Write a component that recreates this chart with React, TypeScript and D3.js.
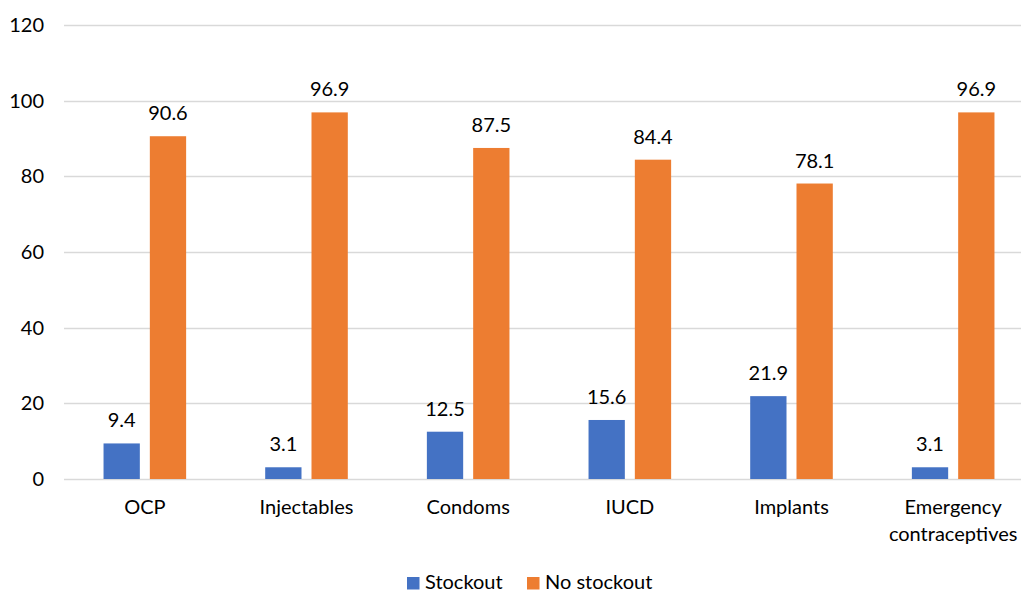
import React from "react";
import * as d3 from "d3";

const categories: string[][] = [
  ["OCP"],
  ["Injectables"],
  ["Condoms"],
  ["IUCD"],
  ["Implants"],
  ["Emergency", "contraceptives"],
];
const stockout = [9.4, 3.1, 12.5, 15.6, 21.9, 3.1];
const noStockout = [90.6, 96.9, 87.5, 84.4, 78.1, 96.9];
const yTicks = [0, 20, 40, 60, 80, 100, 120];
const seriesNames = ["Stockout", "No stockout"];
const colors = ["#4472C4", "#ED7D31"];

const W = 1021;
const H = 592;
const left = 64;
const right = 1034;
const top = 25;
const bottom = 479;
const font = "Lato, Carlito, 'Open Sans', sans-serif";
const fs = 20;

export default function App() {
  const x = d3
    .scaleBand<number>()
    .domain(categories.map((_, i) => i))
    .range([left, right])
    .paddingInner(0)
    .paddingOuter(0);
  const y = d3.scaleLinear().domain([0, 120]).range([bottom, top]);
  const bw = x.bandwidth();
  const barW = 36.3;
  const gap = 10;
  const series = [stockout, noStockout];

  return (
    <svg
      width={W}
      height={H}
      style={{ position: "absolute", left: 0, top: 0, background: "#fff" }}
      fontFamily={font}
    >
      <rect x={0} y={0} width={W} height={H} fill="#fff" />
      {yTicks.map((t) => (
        <g key={t}>
          <line
            x1={left}
            x2={right}
            y1={Math.round(y(t)) + 0.5}
            y2={Math.round(y(t)) + 0.5}
            stroke="#d9d9d9"
            strokeWidth={1.3}
          />
          <text
            x={44}
            y={y(t)}
            dy="0.35em"
            textAnchor="end"
            fontSize={fs}
            fill="#000"
          >
            {t}
          </text>
        </g>
      ))}
      {categories.map((c, i) => {
        const cx = (x(i) as number) + bw / 2;
        return (
          <g key={i}>
            {series.map((s, si) => {
              const bx = si === 0 ? cx - gap / 2 - barW : cx + gap / 2;
              const v = s[i];
              return (
                <g key={si}>
                  <rect
                    x={bx}
                    y={y(v)}
                    width={barW}
                    height={y(0) - y(v)}
                    fill={colors[si]}
                  />
                  <text
                    x={bx + barW / 2}
                    y={y(v) - 16}
                    textAnchor="middle"
                    fontSize={fs}
                    fill="#000"
                  >
                    {v.toFixed(1)}
                  </text>
                </g>
              );
            })}
            {c.map((line, li) => (
              <text
                key={li}
                x={cx}
                y={514 + li * 27}
                textAnchor="middle"
                fontSize={fs}
                fill="#000"
              >
                {line}
              </text>
            ))}
          </g>
        );
      })}
      <g>
        {seriesNames.map((n, i) => {
          const lx = i === 0 ? 407 : 527;
          return (
            <g key={n}>
              <rect x={lx} y={577} width={12.5} height={12.5} fill={colors[i]} />
              <text x={lx + 18} y={589} fontSize={fs} fill="#000">
                {n}
              </text>
            </g>
          );
        })}
      </g>
    </svg>
  );
}
